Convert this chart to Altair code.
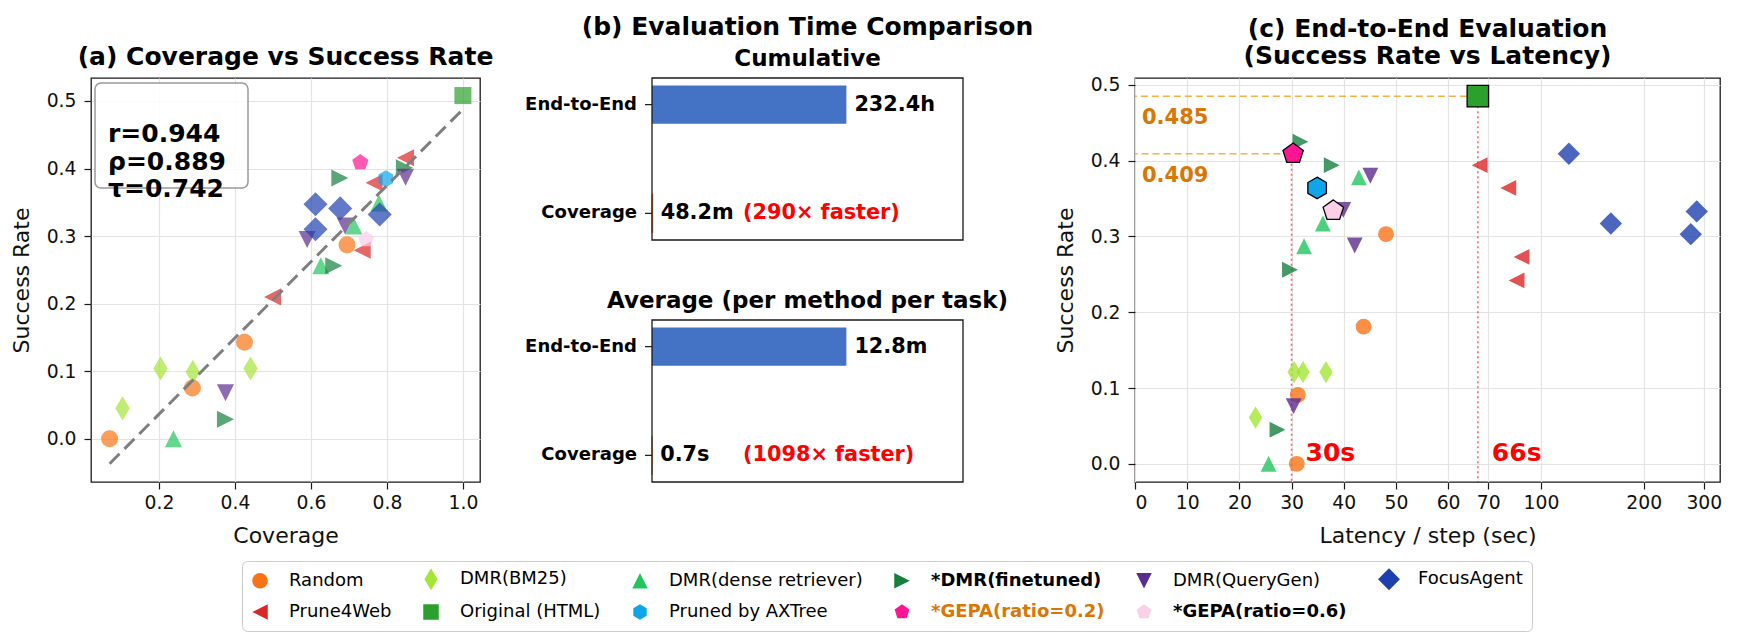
import json
import math
import altair as alt
import pandas as pd

FONT = "DejaVu Sans"

# ---------------- method styling (legend order: filled column by column) ----------------
METHODS = ["Random", "Prune4Web", "DMR(BM25)", "Original (HTML)", "DMR(dense retriever)",
           "Pruned by AXTree", "*DMR(finetuned)", "*GEPA(ratio=0.2)", "DMR(QueryGen)",
           "*GEPA(ratio=0.6)", "FocusAgent"]
COLORS = ["#F97316", "#DC2626", "#A3E635", "#2CA02C", "#22C55E",
          "#0EA5E9", "#15803D", "#FF1493", "#5B2C8F", "#FBCFE8", "#1E40AF"]
CIRCLE = "circle"
TRI_UP = "M0,-1L1,1L-1,1Z"
TRI_RIGHT = "M1,0L-1,-1L-1,1Z"
TRI_DOWN = "M0,1L1,-1L-1,-1Z"
TRI_LEFT = "M-1,0L1,-1L1,1Z"
SQUARE = "M-1,-1L1,-1L1,1L-1,1Z"
DIAMOND = "M0,-1.414L1.414,0L0,1.414L-1.414,0Z"
THIN_DIAMOND = "M0,-1.414L0.849,0L0,1.414L-0.849,0Z"
PENTAGON = "M0,-1L0.951,-0.309L0.588,0.809L-0.588,0.809L-0.951,-0.309Z"
HEXAGON = "M0,-1L0.866,-0.5L0.866,0.5L0,1L-0.866,0.5L-0.866,-0.5Z"
SHAPES = [CIRCLE, TRI_LEFT, THIN_DIAMOND, SQUARE, TRI_UP,
          HEXAGON, TRI_RIGHT, PENTAGON, TRI_DOWN, PENTAGON, DIAMOND]
BOLD_LABELS = ["*DMR(finetuned)", "*GEPA(ratio=0.2)", "*GEPA(ratio=0.6)"]
ORANGE_LABEL = "*GEPA(ratio=0.2)"
SPECIAL = ["Original (HTML)", "Pruned by AXTree", "*GEPA(ratio=0.2)", "*GEPA(ratio=0.6)"]

TITLE_A = "(a) Coverage vs Success Rate"
TITLE_B = "(b) Evaluation Time Comparison"
SUB_B = ["Cumulative", "Average (per method per task)"]
TITLE_C = ["(c) End-to-End Evaluation", "(Success Rate vs Latency)"]

# ---------------- (a) coverage vs success rate ----------------
A_COV = {
    "Random": [0.070, 0.288, 0.425, 0.695],
    "DMR(BM25)": [0.104, 0.204, 0.289, 0.441],
    "DMR(dense retriever)": [0.238, 0.626, 0.713, 0.779],
    "*DMR(finetuned)": [0.375, 0.660, 0.676, 0.846],
    "DMR(QueryGen)": [0.375, 0.590, 0.690, 0.849],
    "FocusAgent": [0.612, 0.612, 0.677, 0.781],
    "Prune4Web": [0.499, 0.735, 0.766, 0.849],
    "Original (HTML)": [1.0],
    "Pruned by AXTree": [0.797],
    "*GEPA(ratio=0.2)": [0.730],
    "*GEPA(ratio=0.6)": [0.745],
}
A_SR = {
    "Random": [0.0, 0.075, 0.143, 0.287],
    "DMR(BM25)": [0.045, 0.104, 0.099, 0.104],
    "DMR(dense retriever)": [0.0, 0.256, 0.315, 0.349],
    "*DMR(finetuned)": [0.029, 0.256, 0.386, 0.401],
    "DMR(QueryGen)": [0.068, 0.295, 0.315, 0.387],
    "FocusAgent": [0.347, 0.310, 0.341, 0.332],
    "Prune4Web": [0.210, 0.279, 0.379, 0.416],
    "Original (HTML)": [0.508],
    "Pruned by AXTree": [0.385],
    "*GEPA(ratio=0.2)": [0.409],
    "*GEPA(ratio=0.6)": [0.295],
}
STATS = ["r=0.944", "ρ=0.889", "τ=0.742"]

# ---------------- (b) evaluation time ----------------
B_CATS = ["End-to-End", "Coverage"]
B_COLORS = ["#4472C4", "#ED7D31"]
CUM_HOURS = [232.4, 48.2 / 60]
CUM_LABELS = ["232.4h", "48.2m"]
AVG_MIN = [12.8, 0.7 / 60]
AVG_LABELS = ["12.8m", "0.7s"]
SPEEDUPS = ["(290× faster)", "(1098× faster)"]

# ---------------- (c) success rate vs latency ----------------
C_LAT = {
    "Random": [48.1, 43.8, 31.2, 31.0],
    "DMR(BM25)": [30.5, 32.2, 36.6, 23.1],
    "DMR(dense retriever)": [42.9, 36.0, 32.4, 25.6],
    "*DMR(finetuned)": [31.7, 37.7, 29.7, 27.3],
    "DMR(QueryGen)": [45.1, 39.9, 42.1, 30.4],
    "FocusAgent": [120.7, 160.2, 286.0, 274.7],
    "Prune4Web": [66.1, 80.2, 87.7, 84.8],
    "Original (HTML)": [65.7],
    "Pruned by AXTree": [34.9],
    "*GEPA(ratio=0.2)": [30.3],
    "*GEPA(ratio=0.6)": [38.0],
}
C_SR = {
    "Random": [0.303, 0.181, 0.091, 0.0],
    "DMR(BM25)": [0.121, 0.121, 0.121, 0.061],
    "DMR(dense retriever)": [0.378, 0.317, 0.287, 0.0],
    "*DMR(finetuned)": [0.425, 0.394, 0.256, 0.045],
    "DMR(QueryGen)": [0.380, 0.335, 0.288, 0.076],
    "FocusAgent": [0.409, 0.317, 0.333, 0.303],
    "Prune4Web": [0.394, 0.364, 0.273, 0.242],
    "Original (HTML)": [0.485],
    "Pruned by AXTree": [0.364],
    "*GEPA(ratio=0.2)": [0.409],
    "*GEPA(ratio=0.6)": [0.334],
}
REF_LAT = [30.0, 65.7]
REF_SR = [0.409, 0.485]
REF_LAT_LBL = ["30s", "66s"]
REF_SR_LBL = ["0.409", "0.485"]
C_TICKS = [0, 10, 20, 30, 40, 50, 60, 70, 100, 200, 300]

# latency axis: linear up to the break, logarithmic beyond
BREAK = 66.0
LOGK = 28.4


def lat_pos(v):
    return v if v <= BREAK else BREAK + LOGK * math.log(v / BREAK)


POS_EXPR = f"datum.lat <= {BREAK} ? datum.lat : {BREAK} + {LOGK} * log(datum.lat / {BREAK})"
LABEL_EXPR = (f"format(datum.value <= {BREAK} ? datum.value : "
              f"{BREAK} * exp((datum.value - {BREAK}) / {LOGK}), '.0f')")


def long_df(xd, yd, xname):
    rows = []
    for m in METHODS:
        for xv, yv in zip(xd[m], yd[m]):
            rows.append({"method": m, xname: xv, "sr": yv})
    return pd.DataFrame(rows)


df_a = long_df(A_COV, A_SR, "cov")
df_c = long_df(C_LAT, C_SR, "lat")
one = pd.DataFrame({"k": [0]})

LEG = alt.Legend(
    title=None, orient="none", legendX=151, legendY=483, columns=6,
    symbolSize=240, symbolStrokeColor="black", symbolStrokeWidth=0.8, symbolOpacity=1,
    labelFont=FONT, labelFontSize=18, labelLimit=500, labelOffset=20,
    columnPadding=29, rowPadding=10, padding=9,
    strokeColor="#cccccc", fillColor="white", cornerRadius=5,
    labelFontWeight={"expr": f"indexof({json.dumps(BOLD_LABELS)}, datum.label) >= 0 ? 'bold' : 'normal'"},
    labelColor={"expr": f"datum.label === '{ORANGE_LABEL}' ? '#D97706' : 'black'"},
)


def color_enc(legend):
    return alt.Color("method:N", scale=alt.Scale(domain=METHODS, range=COLORS), legend=legend)


def shape_enc(legend):
    return alt.Shape("method:N", scale=alt.Scale(domain=METHODS, range=SHAPES), legend=legend)


def title_text(text, x, y, size=25):
    return alt.Chart(one).mark_text(align="center", baseline="alphabetic", fontSize=size,
                                    fontWeight="bold", color="black").encode(
        x=alt.value(x), y=alt.value(y), text=alt.value(text))


SR_TICKS = [0.0, 0.1, 0.2, 0.3, 0.4, 0.5]
WA, WB, WC, H = 389, 311, 585, 404

# ---------------- panel (a) ----------------
XA = alt.X("cov:Q", scale=alt.Scale(domain=[0.021, 1.045], nice=False, zero=False),
           axis=alt.Axis(values=[0.2, 0.4, 0.6, 0.8, 1.0], format=".1f", title="Coverage"))
YA = alt.Y("sr:Q", scale=alt.Scale(domain=[-0.064, 0.534], nice=False, zero=False),
           axis=alt.Axis(values=SR_TICKS, format=".1f", title="Success Rate"))

pts_a = alt.Chart(df_a).mark_point(filled=True, opacity=0.7, size=290).encode(
    x=XA, y=YA, color=color_enc(LEG), shape=shape_enc(LEG))
reg_a = alt.Chart(df_a).transform_regression("cov", "sr").mark_line(
    color="#7f7f7f", strokeWidth=3, strokeDash=[14, 7]).encode(x=XA, y=YA)
box_a = alt.Chart(one).mark_rect(fill="white", fillOpacity=0.85, stroke="#999999", strokeWidth=1.5,
                                 cornerRadius=6).encode(
    x=alt.value(4), x2=alt.value(157), y=alt.value(5), y2=alt.value(110))
txt_a = alt.Chart(one).mark_text(align="left", baseline="middle", fontSize=25, fontWeight="bold",
                                 lineHeight=27.5, color="black").encode(
    x=alt.value(17), y=alt.value(56), text=alt.value(STATS))

panel_a = alt.layer(pts_a, reg_a, box_a, txt_a, title_text(TITLE_A, WA / 2, -12.7)).properties(
    width=WA, height=H)


# ---------------- panel (b) ----------------
BOX_H = 162


def half(vals, labels, speed, subtitle, y0):
    df = pd.DataFrame({"cat": B_CATS, "val": vals, "lbl": labels})
    X = alt.X("val:Q", scale=alt.Scale(domain=[0, 1.6 * max(vals)], nice=False, zero=True), axis=None)
    Y = alt.Y("cat:N", sort=B_CATS, axis=None,
              scale=alt.Scale(domain=B_CATS, range=[y0, y0 + BOX_H], paddingInner=0.65, paddingOuter=0.07))
    base = alt.Chart(df)
    bar_e = base.transform_filter(alt.datum.cat == B_CATS[0]).mark_bar(color=B_COLORS[0]).encode(x=X, y=Y)
    bar_c = base.transform_filter(alt.datum.cat == B_CATS[1]).mark_bar(
        color=B_COLORS[1], stroke=B_COLORS[1], strokeWidth=1.2).encode(x=X, y=Y)
    vlab = base.mark_text(align="left", baseline="middle", dx=8, fontSize=20.8,
                          fontWeight="bold", color="black").encode(x=X, y=Y, text="lbl:N")
    sp = alt.Chart(pd.DataFrame({"cat": [B_CATS[1]], "s": [speed]})).mark_text(
        align="left", baseline="middle", fontSize=20.8, fontWeight="bold", color="red").encode(
        x=alt.value(91), y=Y, text="s:N")
    ylab = base.mark_text(align="right", baseline="middle", fontSize=18, fontWeight="bold",
                          color="black").encode(x=alt.value(-15), y=Y, text="cat:N")
    tick = base.mark_rule(color="#1a1a1a", strokeWidth=1.2).encode(
        x=alt.value(-7), x2=alt.value(0), y=Y)
    frame = alt.Chart(one).mark_rect(fill="white", fillOpacity=0, stroke="#1a1a1a", strokeWidth=1.3).encode(
        x=alt.value(0), x2=alt.value(WB), y=alt.value(y0), y2=alt.value(y0 + BOX_H))
    sub = title_text(subtitle, WB / 2, y0 - 12, size=23)
    return alt.layer(bar_e, bar_c, vlab, sp, ylab, tick, frame, sub)


panel_b = alt.layer(
    half(CUM_HOURS, CUM_LABELS, SPEEDUPS[0], SUB_B[0], 0),
    half(AVG_MIN, AVG_LABELS, SPEEDUPS[1], SUB_B[1], H - BOX_H),
    title_text(TITLE_B, WB / 2, -42.7),
).resolve_scale(x="independent", y="independent").properties(
    width=WB, height=H, view=alt.ViewBackground(stroke="transparent"))

# ---------------- panel (c) ----------------
XC = alt.X("pos:Q", scale=alt.Scale(domain=[0, 112.1], nice=False, zero=False),
           axis=alt.Axis(values=[lat_pos(t) for t in C_TICKS], labelExpr=LABEL_EXPR,
                         title="Latency / step (sec)"))
YC = alt.Y("sr:Q", scale=alt.Scale(domain=[-0.024, 0.509], nice=False, zero=False),
           axis=alt.Axis(values=SR_TICKS, format=".1f", title="Success Rate"))

base_c = alt.Chart(df_c).transform_calculate(pos=POS_EXPR)
spec_test = f"indexof({json.dumps(SPECIAL)}, datum.method) >= 0"
pts_c = base_c.transform_filter(f"!({spec_test})").mark_point(filled=True, opacity=0.8, size=250).encode(
    x=XC, y=YC, color=color_enc(None), shape=shape_enc(None))
spc_c = base_c.transform_filter(spec_test).mark_point(
    filled=True, opacity=1, size=460, stroke="black", strokeWidth=1.3).encode(
    x=XC, y=YC, color=color_enc(None), shape=shape_enc(None))

ref_df = pd.DataFrame({"lat": REF_LAT, "sr": REF_SR, "lat_lbl": REF_LAT_LBL, "sr_lbl": REF_SR_LBL})
base_r = alt.Chart(ref_df).transform_calculate(pos=POS_EXPR)
hrule = base_r.mark_rule(color="#F5A623", strokeDash=[7, 4], strokeWidth=1.6, opacity=0.85).encode(
    x=XC, x2=alt.value(0), y=YC)
vrule = base_r.mark_rule(color="red", strokeDash=[2, 3], strokeWidth=1.6, opacity=0.6).encode(
    x=XC, y=YC, y2=alt.value(H))
srlab = base_r.mark_text(align="left", baseline="middle", dy=22, fontSize=21, fontWeight="bold",
                         color="#D97706").encode(x=alt.value(7), y=YC, text="sr_lbl:N")
latlab = base_r.mark_text(align="left", baseline="middle", dx=14, fontSize=25, fontWeight="bold",
                          color="red").encode(x=XC, y=alt.value(375), text="lat_lbl:N")

panel_c = alt.layer(hrule, vrule, pts_c, spc_c, srlab, latlab,
                    title_text(TITLE_C[0], WC / 2, -41),
                    title_text(TITLE_C[1], WC / 2, -14)).properties(width=WC, height=H)

chart = alt.hconcat(panel_a, panel_b, panel_c, spacing=172, bounds="flush").resolve_scale(
    color="independent", shape="independent"
).properties(
    padding={"left": 9, "top": 14, "right": 5, "bottom": 5}
).configure(font=FONT).configure_view(
    stroke="#1a1a1a", strokeWidth=1.3
).configure_axis(
    labelFont=FONT, titleFont=FONT, labelFontSize=18.75, titleFontSize=22, titleFontWeight="normal",
    labelColor="#111111", titleColor="#111111", tickColor="#1a1a1a", tickSize=7, tickWidth=1.2,
    domain=False, gridColor="#e3e3e3", gridWidth=1.2
).configure_axisX(labelPadding=4, titlePadding=14).configure_axisY(
    labelPadding=8, titlePadding=13
)

chart.save("out.html", embed_options={"renderer": "svg", "actions": False})
